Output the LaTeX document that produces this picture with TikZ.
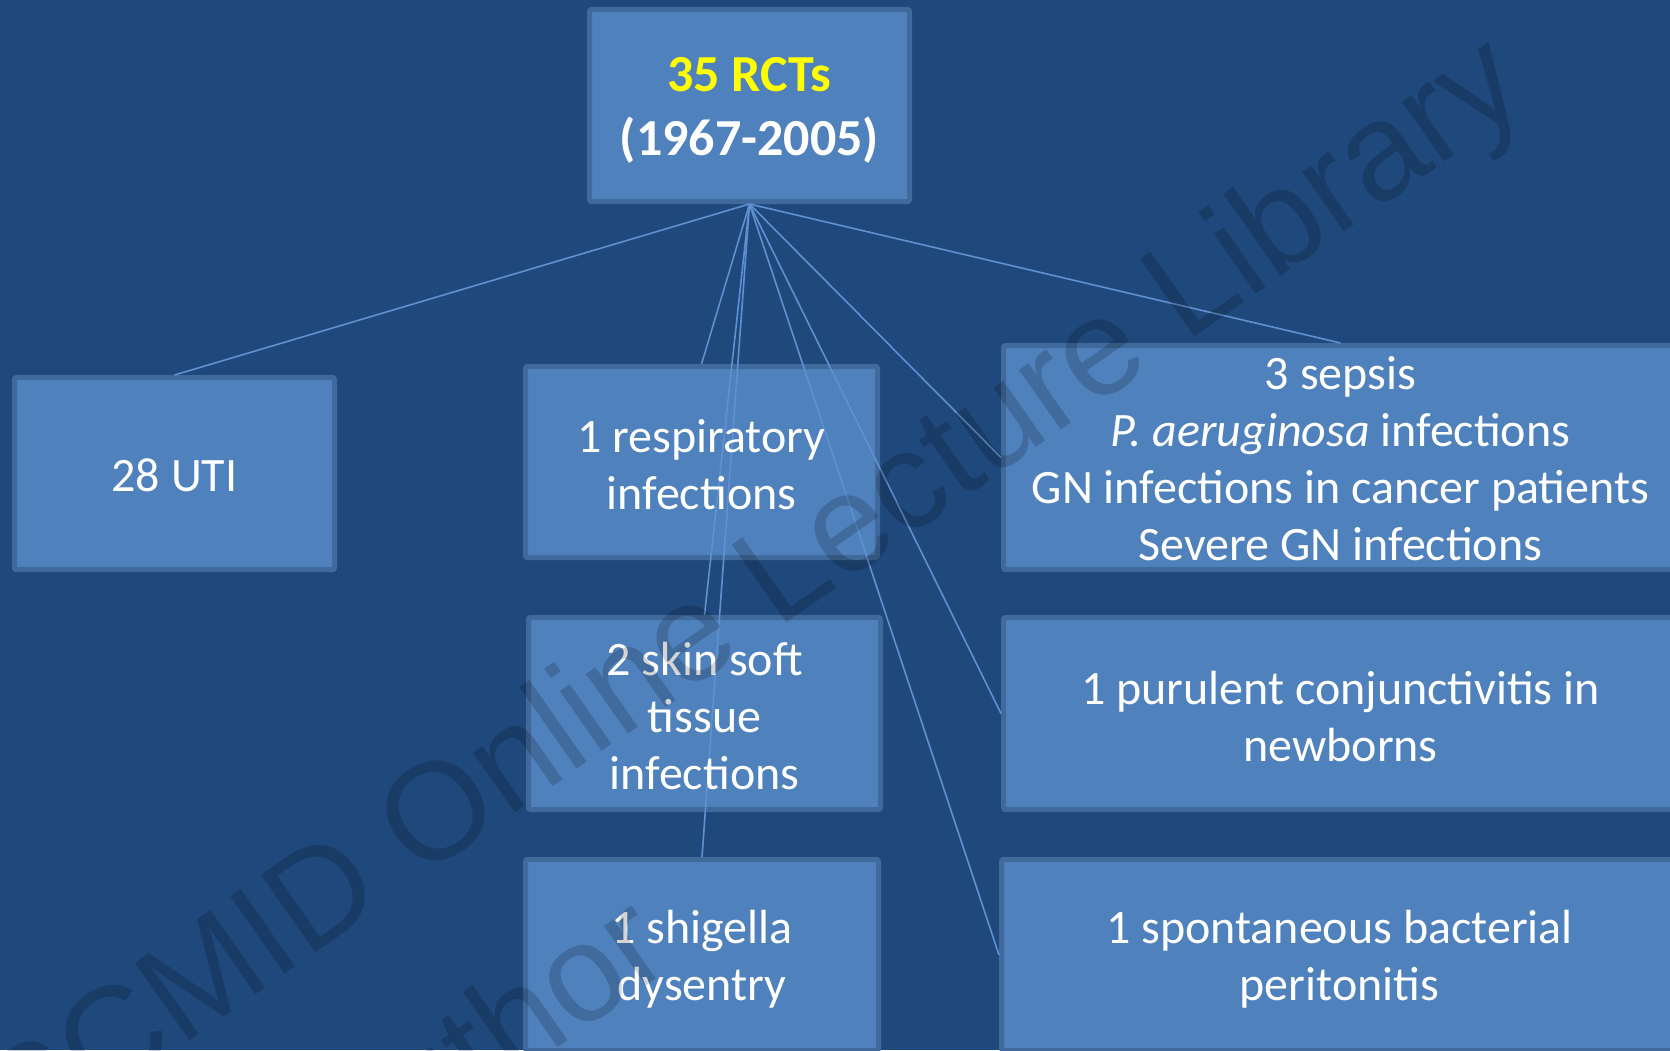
\documentclass[tikz,border=0pt]{standalone}
\usepackage{fontspec}
\setmainfont{Carlito}
\newfontfamily\wmfont{Liberation Sans}
\definecolor{bgblue}{HTML}{1F497D}
\definecolor{boxfill}{HTML}{4F81BD}
\definecolor{boxedge}{HTML}{406A9C}
\definecolor{linkblue}{HTML}{5F90D0}
\definecolor{titleyellow}{HTML}{FFFF00}
\tikzset{
  box/.style={rectangle, fill=boxfill, draw=boxedge, line width=5pt, rounded corners=2pt,
    inner sep=0pt},
  boxtext/.style={inner sep=0pt, align=center, text=white,
    font=\fontsize{48}{57}\selectfont},
  link/.style={draw=linkblue, line width=1.6pt},
  wmark/.style={font=\wmfont\fontsize{138}{160}\selectfont, text=black, text opacity=0.17,
    inner sep=0pt, rotate=35}
}
\begin{document}
\begin{tikzpicture}[x=1pt,y=-1pt]
\useasboundingbox (0,0) rectangle (1670,1050);
\fill[bgblue] (0,0) rectangle (1670,1050);

\node[box, minimum width=320pt, minimum height=192pt] (top) at (749.5,105.5) {};
\node[box, minimum width=320pt, minimum height=192pt] (uti) at (174.5,473.5) {};
\node[box, minimum width=352pt, minimum height=191pt] (resp) at (701.5,462) {};
\node[box, minimum width=352pt, minimum height=192pt] (skin) at (704.5,713.5) {};
\node[box, minimum width=353pt, minimum height=191pt] (shig) at (702,955) {};
\node[box, minimum width=674pt, minimum height=224pt] (sepsis) at (1340.5,457.5) {};
\node[box, minimum width=674pt, minimum height=192pt] (puru) at (1340.5,713.5) {};
\node[box, minimum width=676pt, minimum height=191pt] (perit) at (1339.5,955) {};

\draw[link] (top.south) -- (uti.north);
\draw[link] (top.south) -- (resp.north);
\draw[link] (top.south) -- (skin.north);
\draw[link] (top.south) -- (shig.north);
\draw[link] (top.south) -- (sepsis.north);
\draw[link] (top.south) -- (sepsis.west);
\draw[link] (top.south) -- (puru.west);
\draw[link] (top.south) -- (perit.west);

\node[boxtext, font=\bfseries\fontsize{52}{64}\selectfont] (toptxt) at ([yshift=-5pt]top.center)
  {\textcolor{titleyellow}{35 RCTs}\\(1967-2005)};
\node[boxtext] (utitxt) at ([yshift=-2pt]uti.center) {28 UTI};
\node[boxtext] (resptxt) at ([yshift=-2.5pt]resp.center) {1 respiratory\\infections};
\node[boxtext] (skintxt) at ([yshift=-2pt]skin.center) {2 skin soft\\tissue\\infections};
\node[boxtext] (shigtxt) at ([yshift=-4.5pt]shig.center) {1 shigella\\dysentry};
\node[boxtext] (sepsistxt) at ([yshift=-1pt]sepsis.center)
  {3 sepsis\\\textit{P. aeruginosa} infections\\GN infections in cancer patients\\Severe GN infections};
\node[boxtext] (rutxt) at ([yshift=-2.5pt]puru.center) {1 purulent conjunctivitis in\\newborns};
\node[boxtext] (perittxt) at ([yshift=-4.5pt]perit.center) {1 spontaneous bacterial\\peritonitis};

\node[wmark, anchor=base west] (wm1) at (-52,1210) {ESCMID Online Lecture Library};
\node[wmark, anchor=base west] (wm2) at (90,1375) {\textcopyright{} by author};
\end{tikzpicture}
\end{document}
